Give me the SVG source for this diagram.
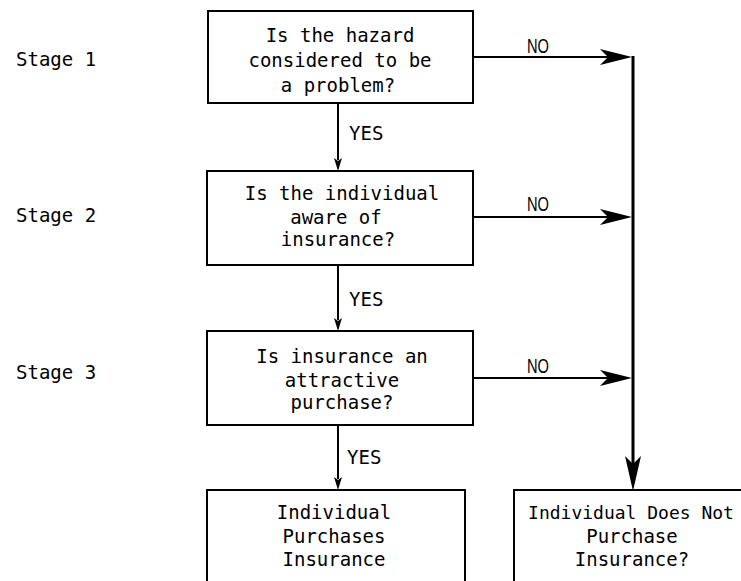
<svg xmlns="http://www.w3.org/2000/svg" width="741" height="581" viewBox="0 0 741 581">
<style>
.box{fill:#fff;stroke:#000;stroke-width:2}
.t{font-family:"DejaVu Sans Mono","Liberation Mono",monospace;font-size:19px;fill:#000;text-anchor:middle}
.s{font-family:"DejaVu Sans Mono","Liberation Mono",monospace;font-size:19px;fill:#000}
.no{font-family:"Liberation Sans",Arial,sans-serif;font-size:20px;fill:#000}
.ln{stroke:#000;stroke-width:2;fill:none}
.ah{fill:#000;stroke:none}
</style>
<rect width="741" height="581" fill="#fff"/>
<g id="stages">
<text class="s" x="16" y="66">Stage 1</text>
<text class="s" x="16" y="222">Stage 2</text>
<text class="s" x="16" y="379">Stage 3</text>
</g>
<g id="connectors">
<line class="ln" x1="338" y1="103" x2="338" y2="160"/>
<path class="ah" d="M338,171 L334,158 L338,161 L342,158 Z"/>
<line class="ln" x1="338" y1="265" x2="338" y2="320"/>
<path class="ah" d="M338,331 L334,318 L338,321 L342,318 Z"/>
<line class="ln" x1="338" y1="425" x2="338" y2="479"/>
<path class="ah" d="M338,490 L334,477 L338,480 L342,477 Z"/>
<text class="s" x="349" y="140">YES</text>
<text class="s" x="349" y="306">YES</text>
<text class="s" x="347" y="464">YES</text>
<line class="ln" x1="473" y1="57" x2="610" y2="57"/>
<path class="ah" d="M632,57 L600,49 L608,57 L600,65 Z"/>
<line class="ln" x1="473" y1="217" x2="610" y2="217"/>
<path class="ah" d="M632,217 L600,209 L608,217 L600,225 Z"/>
<line class="ln" x1="473" y1="378" x2="610" y2="378"/>
<path class="ah" d="M632,378 L600,370 L608,378 L600,386 Z"/>
<text class="no" x="527" y="53" textLength="22" lengthAdjust="spacingAndGlyphs">NO</text>
<text class="no" x="527" y="211" textLength="22" lengthAdjust="spacingAndGlyphs">NO</text>
<text class="no" x="527" y="373" textLength="22" lengthAdjust="spacingAndGlyphs">NO</text>
<line x1="633" y1="56" x2="633" y2="465" stroke="#000" stroke-width="3"/>
<path class="ah" d="M633,491 L625,456 L633,464 L641,456 Z"/>
</g>
<g id="stage1">
<rect class="box" x="208" y="11" width="265" height="92"/>
<text class="t" x="340" y="42">Is the hazard</text>
<text class="t" x="340" y="67">considered to be</text>
<text class="t" x="338" y="92">a problem?</text>
</g>
<g id="stage2">
<rect class="box" x="207" y="171" width="266" height="94"/>
<text class="t" x="342" y="200">Is the individual</text>
<text class="t" x="336" y="224">aware of</text>
<text class="t" x="338" y="246">insurance?</text>
</g>
<g id="stage3">
<rect class="box" x="207" y="331" width="266" height="94"/>
<text class="t" x="342" y="363">Is insurance an</text>
<text class="t" x="342" y="387">attractive</text>
<text class="t" x="342" y="409">purchase?</text>
</g>
<g id="purchase">
<path class="ln" d="M207,581 V490 H465 V581"/>
<text class="t" x="334" y="519">Individual</text>
<text class="t" x="334" y="543">Purchases</text>
<text class="t" x="334" y="566">Insurance</text>
</g>
<g id="nopurchase">
<path class="ln" d="M514,581 V490 H741"/>
<text class="t" x="631" y="519" style="font-size:18px">Individual Does Not</text>
<text class="t" x="632" y="543">Purchase</text>
<text class="t" x="632" y="566">Insurance?</text>
</g>
</svg>
